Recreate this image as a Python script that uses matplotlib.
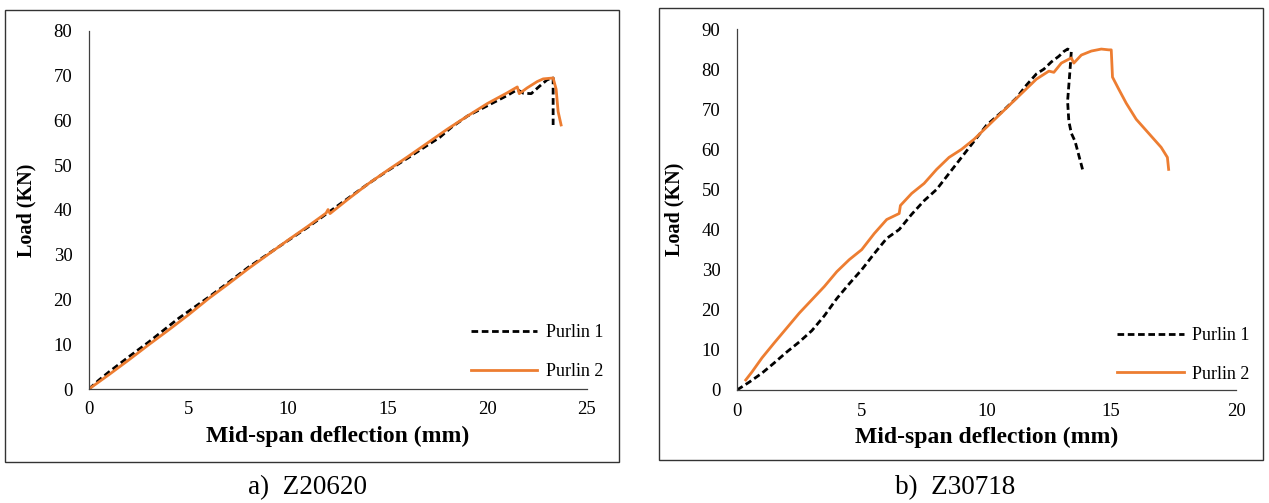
import numpy as np
import matplotlib
matplotlib.use('Agg')
import matplotlib.pyplot as plt
from matplotlib.patches import Rectangle

plt.rcParams['font.family'] = ['Liberation Serif', 'DejaVu Serif']

# a) Z20620
a_p1_x = [0, 0.5, 1, 2, 3, 4.5, 6, 7, 8, 9, 10, 11, 12, 13, 14, 15, 16, 17, 17.6, 18.2,
          19, 20, 21, 21.5, 21.8, 22.2, 22.6, 23.0, 23.3, 23.3, 23.3]
a_p1_y = [0, 2, 3.8, 7.2, 10.5, 15.8, 20.5, 23.8, 27.2, 30.2, 33.2, 36.2, 39.4, 42.6, 45.8, 48.8,
          51.6, 54.5, 56.2, 58.5, 61, 63.3, 65.6, 66.9, 66.1, 66.0, 67.6, 69.1, 69.5, 64, 59]
a_p2_x = [0, 1, 2, 3, 4, 5, 6, 7, 8, 9, 10, 11, 11.9, 12.0, 12.1, 13, 14, 15, 16, 17, 18, 19,
          20, 21, 21.5, 21.6, 22.0, 22.5, 22.8, 23.3, 23.45, 23.55, 23.7]
a_p2_y = [0, 3.2, 6.5, 9.9, 13.2, 16.6, 20.2, 23.5, 26.9, 30.1, 33.3, 36.4, 39.3, 40.1, 39.2,
          42.4, 45.8, 48.9, 51.9, 55, 58.1, 61, 63.8, 66.2, 67.5, 66.0, 67.3, 68.7, 69.3, 69.5,
          67, 62, 59]

# b) Z30718
b_p1_x = [0, 0.5, 1, 1.5, 2, 2.5, 3, 3.5, 4, 4.5, 5, 5.5, 6, 6.5, 7, 7.5, 8, 8.5, 9, 9.5, 10,
          10.7, 11.2, 11.6, 12.0, 12.3, 12.6, 12.9, 13.1, 13.25, 13.4, 13.35, 13.3, 13.25, 13.3,
          13.4, 13.55, 13.7, 13.85]
b_p1_y = [0, 2, 4.2, 6.8, 9.5, 12, 14.8, 18.5, 22.8, 26.5, 30, 34, 37.8, 40, 43.8, 47.2, 50,
          54, 58, 62, 66, 69.8, 72.8, 76, 78.8, 80, 81.8, 83.2, 84.4, 85, 84.5, 80, 76, 72, 67,
          64, 62, 58.5, 55]
b_p2_x = [0.35, 0.6, 1, 1.5, 2, 2.5, 3, 3.5, 4, 4.5, 5, 5.5, 6, 6.5, 6.55, 7, 7.5, 8, 8.5, 9,
          9.5, 10, 10.5, 11, 11.5, 12, 12.5, 12.7, 13, 13.4, 13.5, 13.8, 14.2, 14.6, 14.9, 15.0,
          15.05, 15.3, 15.6, 16, 16.5, 17, 17.25, 17.3]
b_p2_y = [2.5, 4.5, 8, 11.8, 15.5, 19.2, 22.5, 25.8, 29.5, 32.5, 35, 39, 42.5, 44, 46, 49,
          51.5, 55, 58, 60, 62.5, 65.5, 68.5, 71.5, 74.5, 77.5, 79.5, 79.2, 81.5, 82.8, 81.5,
          83.5, 84.5, 85, 84.8, 84.8, 78, 75, 71.5, 67.5, 64, 60.5, 58, 55]

a_xticks = [0, 5, 10, 15, 20, 25]
a_yticks = [0, 10, 20, 30, 40, 50, 60, 70, 80]
b_xticks = [0, 5, 10, 15, 20]
b_yticks = [0, 10, 20, 30, 40, 50, 60, 70, 80, 90]

orange = '#ED7D31'
W, H = 1269, 503

fig = plt.figure(figsize=(W / 100, H / 100), dpi=100)


def frame(x0, y0, x1, y1):
    fig.patches.append(Rectangle((x0 / W, 1 - y1 / H), (x1 - x0) / W, (y1 - y0) / H,
                                 transform=fig.transFigure, fill=False,
                                 edgecolor='#333333', linewidth=1.0))


def panel(rect, p1, p2, xticks, yticks, leg_anchor):
    ax = fig.add_axes(rect)
    ax.plot(p1[0], p1[1], color='black', linestyle=(0, (2.4, 1.3)), linewidth=2.0, label='Purlin 1')
    ax.plot(p2[0], p2[1], color=orange, linewidth=2.0, label='Purlin 2')
    ax.set_xlim(xticks[0], xticks[-1])
    ax.set_ylim(yticks[0], yticks[-1])
    ax.set_xticks(xticks)
    ax.set_yticks(yticks)
    for s in ['top', 'right']:
        ax.spines[s].set_visible(False)
    for s in ['left', 'bottom']:
        ax.spines[s].set_color('#404040')
        ax.spines[s].set_linewidth(0.9)
    ax.tick_params(axis='both', length=0, labelsize=13.5)
    ax.tick_params(axis='x', pad=9)
    ax.tick_params(axis='y', pad=12)
    ax.set_xlabel('Mid-span deflection (mm)', fontsize=17, fontweight='bold', labelpad=5)
    ax.set_ylabel('Load (KN)', fontsize=14.5, fontweight='bold', labelpad=12)
    ax.legend(loc='lower right', bbox_to_anchor=leg_anchor, frameon=False, fontsize=13,
              handlelength=3.7, labelspacing=1.2, handletextpad=0.45)
    return ax


frame(5, 10, 619, 462)
frame(659, 8, 1263, 460)

panel([89 / W, 1 - 389 / H, 498 / W, 358 / H], (a_p1_x, a_p1_y), (a_p2_x, a_p2_y),
      a_xticks, a_yticks, (1.065, -0.02))
panel([737 / W, 1 - 390 / H, 499 / W, 361 / H], (b_p1_x, b_p1_y), (b_p2_x, b_p2_y),
      b_xticks, b_yticks, (1.06, -0.025))

fig.text(307 / W, 1 - 488 / H, 'a)  Z20620', ha='center', va='center', fontsize=19.5)
fig.text(955 / W, 1 - 488 / H, 'b)  Z30718', ha='center', va='center', fontsize=19.5)

fig.savefig('out.png', dpi=100)
